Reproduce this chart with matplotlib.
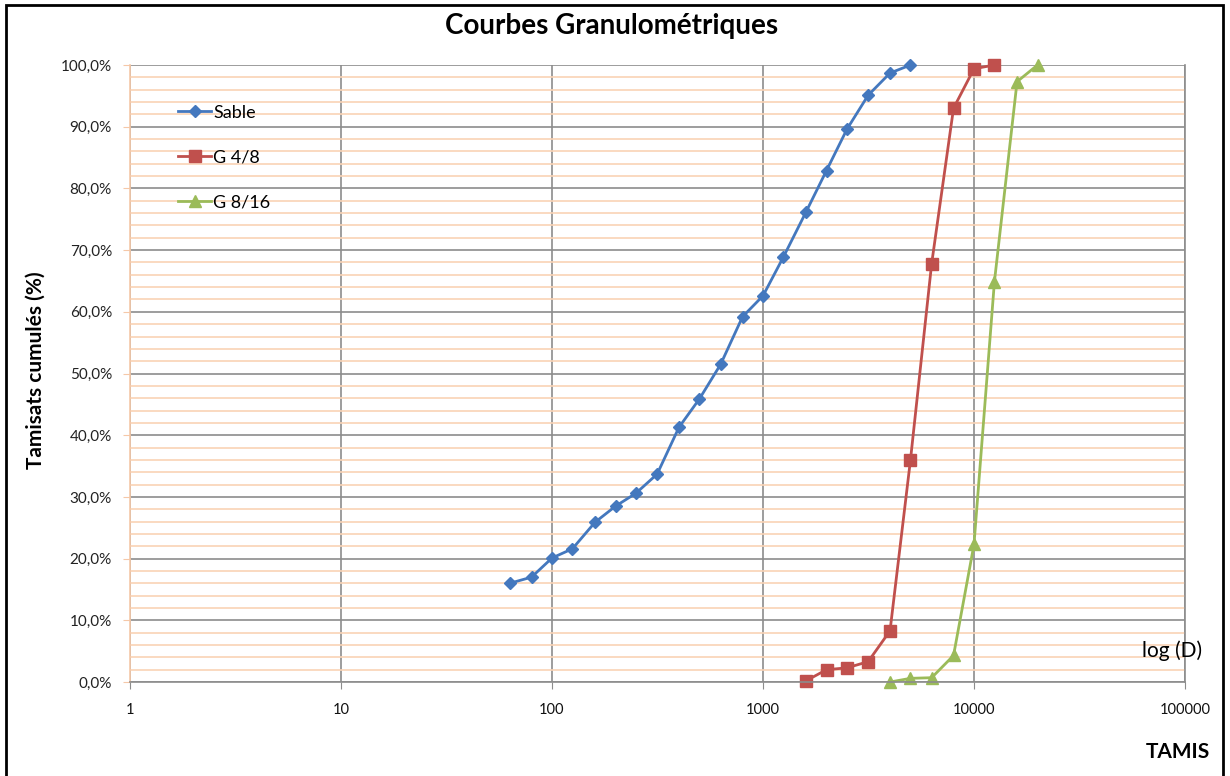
import matplotlib
matplotlib.use("Agg")
import matplotlib.pyplot as plt
from matplotlib.ticker import FixedLocator, MultipleLocator, FuncFormatter

plt.rcParams['font.family'] = ['Lato', 'DejaVu Sans']

# tamis (D) et tamisats cumules (%)
sable_d = [63, 80, 100, 125, 160, 200, 250, 315, 400, 500, 630, 800,
           1000, 1250, 1600, 2000, 2500, 3150, 4000, 5000]
sable_p = [16.0, 17.0, 20.1, 21.6, 25.9, 28.5, 30.6, 33.7, 41.3, 45.9, 51.5, 59.2,
           62.6, 68.9, 76.2, 82.9, 89.6, 95.1, 98.7, 100.0]

g48_d = [1600, 2000, 2500, 3150, 4000, 5000, 6300, 8000, 10000, 12500]
g48_p = [0.2, 2.0, 2.3, 3.3, 8.3, 36.0, 67.8, 93.0, 99.4, 100.0]

g816_d = [4000, 5000, 6300, 8000, 10000, 12500, 16000, 20000]
g816_p = [0.0, 0.6, 0.7, 4.3, 22.3, 64.9, 97.3, 100.0]

x_ticks = [1, 10, 100, 1000, 10000, 100000]

fig = plt.figure(figsize=(12.3, 7.76), dpi=100)
ax = fig.add_axes([0.1057, 0.1211, 0.8577, 0.7951])

ax.set_xscale('log')
ax.set_xlim(1, 100000)
ax.set_ylim(0, 100)

# grilles
ax.yaxis.set_major_locator(MultipleLocator(10))
ax.yaxis.set_minor_locator(MultipleLocator(2))
ax.xaxis.set_major_locator(FixedLocator(x_ticks))
ax.xaxis.set_minor_locator(FixedLocator([]))
ax.grid(which='minor', axis='y', color='#FAD3B5', lw=1.2)
ax.grid(which='major', axis='y', color='#8C8C8C', lw=1.2)
ax.grid(which='major', axis='x', color='#8C8C8C', lw=1.2)
ax.set_axisbelow(True)

ax.plot(sable_d, sable_p, color='#4478BE', lw=2, marker='D', ms=6.5, label='Sable')
ax.plot(g48_d, g48_p, color='#C0504D', lw=2, marker='s', ms=8.5, label='G 4/8')
ax.plot(g816_d, g816_p, color='#9BBB59', lw=2, marker='^', ms=9, label='G 8/16')
for line in ax.lines:
    line.set_clip_on(False)

ax.yaxis.set_major_formatter(FuncFormatter(lambda v, p: ('%.1f%%' % v).replace('.', ',')))
ax.xaxis.set_major_formatter(FuncFormatter(lambda v, p: '%d' % v))
ax.tick_params(axis='y', which='major', length=5, color='#F5C8A8', labelsize=11,
               labelcolor='#222222', pad=8)
ax.tick_params(axis='y', which='minor', length=0)
ax.tick_params(axis='x', which='major', length=5, color='#8C8C8C', labelsize=10.5,
               labelcolor='#111111', pad=10)

ax.spines['left'].set_color('#F5C8A8')
ax.spines['bottom'].set_color('#8C8C8C')
ax.spines['right'].set_color('#8C8C8C')
ax.spines['top'].set_visible(False)
for s in ['left', 'bottom', 'right']:
    ax.spines[s].set_linewidth(1.2)

leg = ax.legend(loc='upper left', bbox_to_anchor=(0.03, 0.962), frameon=False,
                fontsize=13, labelspacing=1.6, handlelength=1.85, handletextpad=0.1)

fig.text(0.497, 0.966, 'Courbes Granulométriques', ha='center', va='center',
         fontsize=20, fontweight='bold')
fig.text(0.029, 0.523, 'Tamisats cumulés (%)', rotation=90, ha='center', va='center',
         fontsize=15, fontweight='bold')
fig.text(0.977, 0.161, 'log (D)', ha='right', va='center', fontsize=15)
fig.text(0.984, 0.031, 'TAMIS', ha='right', va='center', fontsize=15, fontweight='bold')

# cadre
fig.patches.append(plt.Rectangle((0.005, -0.01), 0.989, 1.003, transform=fig.transFigure,
                                 fill=False, edgecolor='black', lw=2))

fig.savefig('out.png', dpi=100)
